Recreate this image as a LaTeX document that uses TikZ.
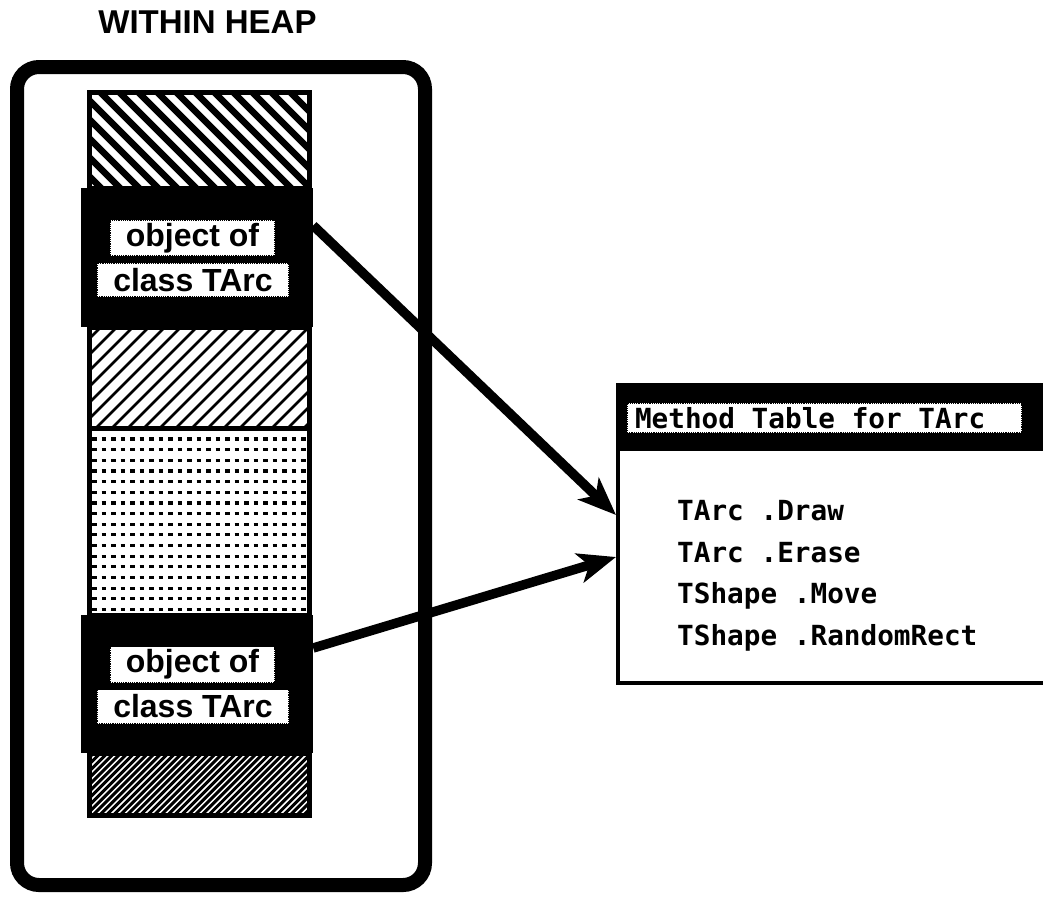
\documentclass[tikz,border=0pt]{standalone}
\usepackage{fontspec}
\setmainfont{Liberation Sans}
\newfontfamily\monob{DejaVu Sans Mono}
\usetikzlibrary{arrows.meta}
\begin{document}
\begin{tikzpicture}[x=1pt,y=-1pt,
  sec/.style={draw, line width=5pt, inner sep=0pt, minimum width=220pt},
  band/.style={fill=black, inner sep=0pt, minimum width=232pt},
  lab/.style={fill=white, draw=black, densely dotted, line width=1.2pt, inner sep=0pt,
    font=\bfseries\fontsize{32}{32}\selectfont},
  hlab/.style={fill=white, draw=black, densely dotted, line width=1.2pt, inner ysep=0pt,
    inner xsep=8pt, font=\monob\bfseries\fontsize{27.7}{28}\selectfont},
  meth/.style={anchor=base west, inner sep=0pt, font=\monob\bfseries\fontsize{27.7}{28}\selectfont},
  link/.style={line width=9.5pt, -{Stealth[length=38pt,width=30pt,inset=10pt]}}
]
\useasboundingbox (0,0) rectangle (1043,898);
\clip (0,0) rectangle (1043,898);
\fill[white] (0,0) rectangle (1043,898);

% title
\node[inner sep=0pt, font=\bfseries\fontsize{33}{33}\selectfont] (title) at (207.5,22.5) {WITHIN HEAP};

% heap frame
\node[draw, line width=14pt, rounded corners=22pt, inner sep=0pt,
      minimum width=408pt, minimum height=818pt] (heap) at (221,476) {};

% section 1: thick backslash hatch
\begin{scope}
  \clip (89,92) rectangle (309,188);
  \foreach \s in {-140,-121,...,330} \draw[line width=6.5pt] (\s,80) -- ++(130,130);
\end{scope}
\node[sec, minimum height=96pt] (sec1) at (199,140) {};

% section 2: thin slash hatch
\begin{scope}
  \clip (89,327) rectangle (309,428);
  \foreach \s in {-60,-44,...,330} \draw[line width=2.5pt] (\s,440) -- ++(130,-130);
\end{scope}
\node[sec, minimum height=101pt] (sec2) at (199,377.5) {};

% section 3: dotted rows
\begin{scope}
  \clip (89,428) rectangle (309,615);
  \foreach \r in {0,...,16}
    \draw[line width=3.2pt, dash pattern=on 4.5pt off 5pt] (92,{439+\r*10.65}) -- (312,{439+\r*10.65});
\end{scope}
\node[sec, minimum height=187pt] (sec3) at (199,521.5) {};

% section 4: dense slash hatch
\begin{scope}
  \clip (89,753) rectangle (309,815);
  \foreach \s in {0,...,52} \draw[line width=3pt] ({10+\s*6.8},830) -- ++(90,-90);
\end{scope}
\node[sec, minimum height=62pt] (sec4) at (199,784) {};

% object bands
\node[band, minimum height=139pt] (band1) at (197,257.5) {};
\node[band, minimum height=138pt] (band2) at (197,684) {};

\node[lab, minimum width=165pt, minimum height=36pt] (o1a) at (192.5,238) {object of};
\node[lab, minimum width=192pt, minimum height=34pt] (o1b) at (193,280) {class TArc};
\node[lab, minimum width=165pt, minimum height=36pt] (o2a) at (192.5,664.5) {object of};
\node[lab, minimum width=192pt, minimum height=34pt] (o2b) at (193,706.5) {class TArc};

% method table
\node[draw, line width=4pt, fill=white, inner sep=0pt,
      minimum width=444pt, minimum height=298pt] (table) at (840,534) {};
\node[fill=black, inner sep=0pt, minimum width=444pt, minimum height=68pt, anchor=north]
      (thead) at (table.north) {};
\node[hlab, minimum height=30pt] (htitle) at (824.5,418)
      {\makebox[379pt][l]{Method\ Table\ for\ TArc}};
\node[meth] (m1) at (677,520) {TArc .Draw};
\node[meth] (m2) at (677,562) {TArc .Erase};
\node[meth] (m3) at (677,603) {TShape .Move};
\node[meth] (m4) at (677,645) {TShape .RandomRect};

% pointers
\draw[link] ([yshift=32pt]band1.east) -- ([yshift=19pt]table.west);
\draw[link] ([yshift=36pt]band2.east) -- ([yshift=-23pt]table.west);
\end{tikzpicture}
\end{document}
